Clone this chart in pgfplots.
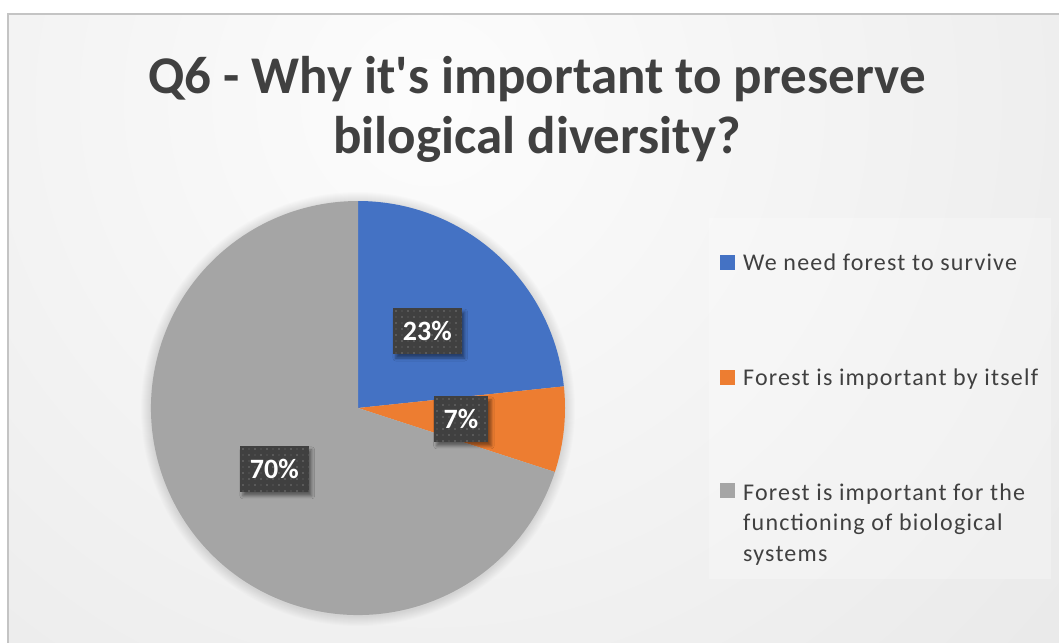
\documentclass[border=0pt]{standalone}
\usepackage{pgfplots}
\pgfplotsset{compat=1.18}
\usepackage{pgfplotstable}
\usepackage{fontspec}
\setmainfont{Carlito}
\newfontfamily\titlefont{Carlito}
\newfontfamily\legendfont[LetterSpace=5]{Carlito}
\usetikzlibrary{shadows.blur}
\definecolor{cblue}{HTML}{4472C4}
\definecolor{corange}{HTML}{ED7D31}
\definecolor{cgray}{HTML}{A5A5A5}
\definecolor{txt}{HTML}{404040}
\definecolor{lblbg}{HTML}{404040}
\definecolor{dotA}{HTML}{5A5A5A}
\definecolor{dotB}{HTML}{4B4B4B}
\definecolor{framec}{HTML}{C4C4C4}
\pgfdeclareradialshading{bgshade}{\pgfpoint{0bp}{0bp}}{color(0bp)=(white!99!black); color(50bp)=(white!83!black)}

% responses (counts) per answer
\pgfplotstableread[col sep=comma]{
count,color
7,cblue
2,corange
21,cgray
}\datatable

\begin{document}
\begin{tikzpicture}
\useasboundingbox (0,0) rectangle (1059bp,643bp);
\clip (0,0) rectangle (1059bp,643bp);
\fill[white] (0,0) rectangle (1059bp,643bp);
\begin{axis}[
  at={(0,0)}, anchor=south west,
  scale only axis, width=1059bp, height=643bp,
  xmin=0, xmax=1059, ymin=0, ymax=643, y dir=reverse,
  hide axis, clip=false,
]
\pgfplotsextra{
  % background
  \begin{scope}
    \clip (axis cs:8,14) rectangle (axis cs:1080,680);
    \shade[shading=bgshade] (axis cs:430,100) circle[radius=900bp];
  \end{scope}
  \draw[framec, line width=2bp] (axis cs:1100,14) -- (axis cs:8,14) -- (axis cs:8,700);
  % title
  \node[anchor=base, text=txt, font=\titlefont\fontsize{53bp}{62bp}\selectfont\bfseries] at (axis cs:537,93) {Q6 - Why it's important to preserve};
  \node[anchor=base, text=txt, font=\titlefont\fontsize{53bp}{62bp}\selectfont\bfseries] at (axis cs:537,153) {bilogical diversity?};
  % total
  \gdef\total{0}
  \pgfplotsforeachungrouped \r in {0,1,2}{%
    \pgfplotstablegetelem{\r}{count}\of\datatable
    \pgfmathsetmacro\tmp{\total+\pgfplotsretval}%
    \xdef\total{\tmp}%
  }
  % pie soft shadow
  \foreach \k in {1,...,10}{
    \fill[black, opacity=0.012] (axis cs:358,409) circle[radius=207bp+\k bp];
  }
  % slices
  \gdef\ang{90}
  \pgfplotsforeachungrouped \r in {0,1,2}{%
    \pgfplotstablegetelem{\r}{count}\of\datatable \let\c\pgfplotsretval
    \pgfplotstablegetelem{\r}{color}\of\datatable \let\col\pgfplotsretval
    \pgfmathsetmacro\endang{\ang-360*\c/\total}%
    \pgfmathsetmacro\midang{(\ang+\endang)/2}%
    \pgfmathparse{int(round(100*\c/\total))}\let\pct\pgfmathresult
    \expandafter\xdef\csname mid\r\endcsname{\midang}%
    \expandafter\xdef\csname pct\r\endcsname{\pct}%
    \fill[\col] (axis cs:358,408) -- ++(\ang:207bp) arc[start angle=\ang, end angle=\endang, radius=207bp] -- cycle;
    \xdef\ang{\endang}%
  }
  % data labels
  \pgfplotsforeachungrouped \r in {0,1,2}{%
    \edef\m{\csname mid\r\endcsname}%
    \edef\p{\csname pct\r\endcsname}%
    \path (axis cs:358,408) ++(\m:103.5bp) node[fill=lblbg, text=white,
      font=\fontsize{28bp}{32bp}\selectfont\bfseries,
      minimum height=46bp, inner xsep=10bp, inner ysep=0bp,
      blur shadow={shadow xshift=3bp, shadow yshift=-4bp, shadow blur radius=3bp, shadow opacity=45},
      path picture={
        \foreach \i in {0,...,14}{\foreach \j in {0,...,8}{
          \pgfmathtruncatemacro\parity{mod(\i+\j,2)}
          \ifnum\parity=0 \def\dc{dotA}\else\def\dc{dotB}\fi
          \fill[\dc] ([shift={(\i*6bp+2bp,-\j*6bp-2bp)}]path picture bounding box.north west) rectangle ++(2.2bp,-2.2bp);
        }}
      }] {\p\%};
  }
  % legend
  \fill[white, opacity=0.25] (axis cs:709,218) rectangle (axis cs:1051,579);
  \fill[cblue] (axis cs:720,254.5) rectangle (axis cs:735,269.5);
  \fill[corange] (axis cs:720,369.5) rectangle (axis cs:735,384.5);
  \fill[cgray] (axis cs:720,482.5) rectangle (axis cs:735,497.5);
  \tikzset{leg/.style={anchor=base west, text=txt, inner sep=0pt, font=\legendfont\fontsize{24bp}{30bp}\selectfont}}
  \node[leg] at (axis cs:743,270) {We need forest to survive};
  \node[leg] at (axis cs:743,385) {Forest is important by itself};
  \node[leg] at (axis cs:743,500) {Forest is important for the};
  \node[leg] at (axis cs:743,530) {functioning of biological};
  \node[leg] at (axis cs:743,561) {systems};
}
\end{axis}
\end{tikzpicture}
\end{document}
